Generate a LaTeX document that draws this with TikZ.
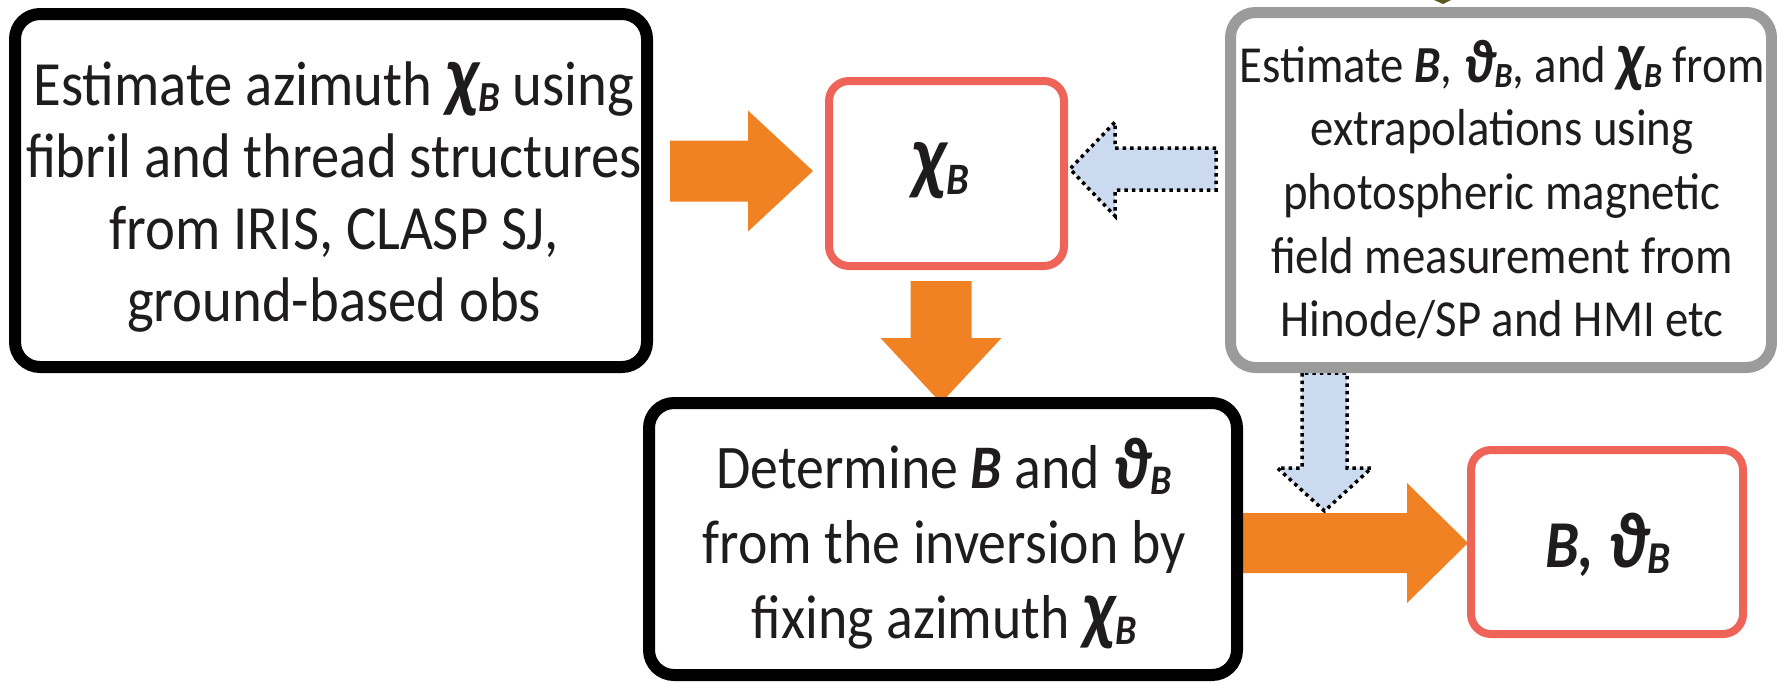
\documentclass[tikz,border=0pt]{standalone}
\usepackage{fontspec}
\setmainfont{Carlito}[FakeStretch=0.9]
\usepackage{graphicx}
\usetikzlibrary{calc,backgrounds}
\definecolor{orA}{RGB}{240,130,35}
\definecolor{redA}{RGB}{238,100,88}
\definecolor{grayA}{RGB}{155,155,155}
\definecolor{blueA}{RGB}{204,218,240}
\definecolor{txtA}{RGB}{30,28,28}
\definecolor{oliveA}{RGB}{90,90,30}
\newcommand\sbB{\raisebox{-0.1em}{\scalebox{0.68}{B}}}
\newcommand\chiG{\raisebox{0.04em}{\scalebox{1.3}{χ}}}
\newcommand\thG{\scalebox{1.18}{ϑ}}
\newcommand\chiB{{\bfseries\itshape \chiG\sbB}}
\newcommand\thB{{\bfseries\itshape \thG\sbB}}
\newcommand\Bb{{\bfseries\itshape B}}
% block arrows: #1 style, #2 start, #3 tip, #4 half shaft, #5 half head, #6 head length
\newcommand\blkR[6]{\path[#1] let \p1=#2, \p2=#3 in
 (\x1,\y2+#4pt) -- (\x2-#6pt,\y2+#4pt) -- (\x2-#6pt,\y2+#5pt) -- (\x2,\y2) -- (\x2-#6pt,\y2-#5pt) -- (\x2-#6pt,\y2-#4pt) -- (\x1,\y2-#4pt) -- cycle;}
\newcommand\blkL[6]{\path[#1] let \p1=#2, \p2=#3 in
 (\x1,\y2+#4pt) -- (\x2+#6pt,\y2+#4pt) -- (\x2+#6pt,\y2+#5pt) -- (\x2,\y2) -- (\x2+#6pt,\y2-#5pt) -- (\x2+#6pt,\y2-#4pt) -- (\x1,\y2-#4pt) -- cycle;}
\newcommand\blkD[6]{\path[#1] let \p1=#2, \p2=#3 in
 (\x1-#4pt,\y1) -- (\x1-#4pt,\y2+#6pt) -- (\x1-#5pt,\y2+#6pt) -- (\x1,\y2) -- (\x1+#5pt,\y2+#6pt) -- (\x1+#4pt,\y2+#6pt) -- (\x1+#4pt,\y1) -- cycle;}
\begin{document}
\begin{tikzpicture}[x=1pt,y=-1pt,
  boxK/.style={draw=black, line width=12pt, rounded corners=25pt, fill=white, inner sep=0pt, outer sep=0pt},
  boxG/.style={draw=grayA, line width=11pt, rounded corners=25pt, fill=white, inner sep=0pt, outer sep=0pt},
  boxR/.style={draw=redA, line width=8pt, rounded corners=20pt, fill=white, inner sep=0pt, outer sep=0pt},
  txt/.style={inner sep=0pt, outer sep=0pt, text=txtA},
  orArrow/.style={fill=orA},
  blArrow/.style={fill=blueA, draw=black, line width=3.5pt, dash pattern=on 3.5pt off 4pt}]
\useasboundingbox (0,0) rectangle (1777,683);
% boxes
\node[boxK, minimum width=632pt, minimum height=353pt] (lbox) at (331,190.5) {};
\node[boxR, minimum width=235pt, minimum height=185pt] (cbox) at (946.5,173.5) {};
\node[boxG, minimum width=541pt, minimum height=355pt] (gbox) at (1501,190) {};
\node[boxK, minimum width=588pt, minimum height=272pt] (mbox) at (943,539) {};
\node[boxR, minimum width=272pt, minimum height=184pt] (bbox) at (1607,542) {};
% texts
\node[txt] (ltxt) at (334,198.6) {\fontsize{63}{72}\selectfont\begin{tabular}{@{}c@{}}Estimate azimuth \chiB{} using\\fibril and thread structures\\from IRIS, CLASP SJ,\\ground-based obs\end{tabular}};
\node[txt] (ctxt) at (940,172) {\fontsize{66}{77}\selectfont\begin{tabular}{@{}c@{}}\chiB\end{tabular}};
\node[txt] (gtxt) at (1502,196.7) {\fontsize{52}{63.7}\selectfont\begin{tabular}{@{}c@{}}Estimate \Bb, \thB, and \chiB{} from\\extrapolations using\\photospheric magnetic\\field measurement from\\Hinode/SP and HMI etc\end{tabular}};
\node[txt] (mtxt) at (944,548) {\fontsize{62}{75}\selectfont\begin{tabular}{@{}c@{}}Determine \Bb{} and \thB\\from the inversion by\\fixing azimuth \chiB\end{tabular}};
\node[txt] (btxt) at (1608,551.6) {\fontsize{67}{77}\selectfont\begin{tabular}{@{}c@{}}{\bfseries\itshape B, \thG\sbB}\end{tabular}};
% arrows behind the boxes
\begin{scope}[on background layer]
\blkR{orArrow}{($(lbox.east)+(23,0)$)}{($(cbox.west)+(-16,-2.5)$)}{30.5}{60.5}{65}
\blkD{orArrow}{($(cbox.south)+(-5.5,15)$)}{(mbox.north)}{30.5}{60.5}{65}
\blkL{blArrow}{($(gbox.west)+(-14.5,0)$)}{($(cbox.east)+(6,-4.5)$)}{21}{47}{45}
\blkD{blArrow}{($(gbox.south)+(-176.5,5.5)$)}{($(mbox.east)+(0,-28)$)}{22.5}{47}{43}
\blkR{orArrow}{(mbox.east)}{($(bbox.west)+(-3,1)$)}{30}{60}{61}
\end{scope}
\fill[oliveA] (1434,0) -- (1451,0) -- (1443,4) -- cycle;
\end{tikzpicture}
\end{document}
